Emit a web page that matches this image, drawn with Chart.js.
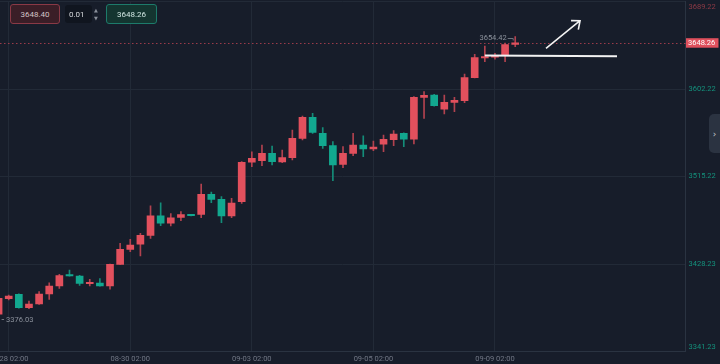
<!DOCTYPE html>
<html>
<head>
<meta charset="utf-8">
<script src="https://cdn.jsdelivr.net/npm/chart.js@4.4.1/dist/chart.umd.min.js"></script>
<style>
html,body{margin:0;padding:0;background:#171d2a;overflow:hidden;}
#wrap{position:relative;width:720px;height:364px;background:#171d2a;}
canvas{display:block;}
.box{position:absolute;box-sizing:border-box;font-family:Roboto,"Liberation Sans",Arial,sans-serif;font-size:8px;display:flex;align-items:center;justify-content:center;border-radius:3px;}
#b1{left:10px;top:4px;width:50px;height:20px;background:#3a1e27;border:1px solid #8a3946;color:#d2c2c6;}
#b2{left:65px;top:5px;width:27px;height:18px;background:#10151f;color:#d6d8dc;justify-content:flex-start;padding-left:4px;}
#spin{position:absolute;left:93px;top:6px;width:6px;height:16px;color:#8a909a;font-size:5px;line-height:8px;text-align:center;font-family:"DejaVu Sans",sans-serif;}
#b3{left:106px;top:4px;width:51px;height:20px;background:#143530;border:1px solid #1d7b6b;color:#d0e6e2;}
#tab{position:absolute;left:709px;top:114px;width:11px;height:39px;background:#2b3341;border-radius:5px 0 0 5px;color:#c5c9d0;font-family:"DejaVu Sans",sans-serif;font-size:9px;display:flex;align-items:center;justify-content:center;}
</style>
</head>
<body>
<div id="wrap">
  <canvas id="c" width="720" height="364"></canvas>
  <div class="box" id="b1">3648.40</div>
  <div class="box" id="b2">0.01</div>
  <div id="spin">&#9650;<br>&#9660;</div>
  <div class="box" id="b3">3648.26</div>
  <div id="tab">&#8250;</div>
</div>
<script>
// ---------------- data ----------------
const candleIdx = [-1,0,1,2,3,4,5,6,7,8,9,10,11,12,13,14,15,16,17,18,19,20,21,22,23,24,25,26,27,28,29,30,31,32,33,34,35,36,37,38,39,40,41,42,43,44,45,46,47,48,49,50];
const opens  = [3378.5,3393.8,3398.2,3384.9,3388.5,3398.5,3406.4,3417.1,3416.4,3408.7,3409.4,3406.4,3428.0,3442.9,3447.9,3456.8,3476.3,3468.8,3474.7,3477.0,3477.7,3497.6,3492.6,3476.0,3490.2,3529.4,3531.0,3538.3,3529.7,3534.0,3553.2,3574.1,3558.2,3545.9,3527.4,3538.3,3546.6,3542.6,3547.3,3551.9,3558.2,3552.3,3594.0,3596.3,3582.1,3589.0,3590.6,3613.5,3633.1,3633.8,3636.0,3646.5];
const highs  = [3396.5,3397.5,3398.6,3391.5,3400.8,3409.7,3418.1,3422.3,3417.1,3413.1,3413.7,3428.3,3448.9,3452.9,3458.8,3486.0,3489.2,3478.3,3480.3,3477.3,3507.8,3499.9,3495.2,3493.6,3530.0,3539.9,3546.6,3545.6,3541.6,3561.5,3575.4,3578.1,3563.8,3549.9,3544.9,3558.2,3555.8,3550.6,3556.5,3560.8,3558.6,3594.6,3599.6,3597.0,3596.3,3594.0,3617.2,3636.7,3645.0,3637.7,3648.0,3654.42];
const lows   = [3376.03,3392.5,3384.5,3383.9,3388.2,3393.2,3404.1,3416.2,3407.1,3406.4,3406.2,3403.4,3427.8,3440.5,3436.3,3453.8,3466.4,3466.1,3471.3,3476.0,3474.3,3489.2,3469.4,3474.3,3488.6,3525.0,3526.0,3526.7,3529.0,3531.7,3551.6,3558.2,3543.3,3511.1,3524.0,3536.0,3535.0,3540.9,3539.9,3545.9,3544.9,3547.6,3573.1,3585.3,3577.4,3579.7,3588.6,3613.2,3629.4,3631.8,3629.4,3644.3];
const closes = [3394.2,3396.5,3384.9,3388.5,3398.5,3406.4,3416.7,3416.4,3409.1,3409.7,3406.4,3428.0,3442.9,3447.2,3456.8,3476.3,3468.8,3474.3,3477.3,3476.3,3497.6,3492.6,3476.0,3488.9,3529.4,3533.4,3538.3,3530.0,3534.0,3553.2,3574.1,3559.2,3545.9,3526.7,3538.3,3546.6,3542.6,3544.6,3552.3,3557.5,3552.3,3594.0,3596.0,3585.7,3589.0,3591.0,3613.5,3633.4,3633.8,3634.4,3646.5,3648.26];

const xTickIdx    = [0,12,24,36,48];
const xTickLabels = ['08-28 02:00','08-30 02:00','09-03 02:00','09-05 02:00','09-09 02:00'];
const yTicks      = [3341.23,3428.23,3515.22,3602.22,3689.22];
const currentPrice = 3648.26;
const highMark = {idx: 50, value: 3654.42, text: '3654.42'};
const lowMark  = {idx: -1, value: 3376.03, text: '3376.03'};
const trendLine = [{x:47, y:3635.6},{x:60.05, y:3634.7}];
const arrowLine = [{x:53.04, y:3642.7},{x:56.4, y:3670.1}];

// ---------------- styles ----------------
const UP = '#e2505d', DOWN = '#12a88f';
const UP_WICK = '#b2424f', DOWN_WICK = '#148d79';
const FONT = 'Roboto, "Liberation Sans", Arial, sans-serif';

const isUp = candleIdx.map((_, i) => closes[i] >= opens[i]);
const bodyData = candleIdx.map((x, i) => ({x, y: [opens[i], closes[i]]}));
const wickData = candleIdx.map((x, i) => ({x, y: [lows[i], highs[i]]}));

const overlay = {
  id: 'overlay',
  beforeDatasetsDraw(chart) {
    const {ctx, chartArea: a, scales: {x, y}} = chart;
    const py = y.getPixelForValue(currentPrice);
    ctx.save();
    ctx.strokeStyle = 'rgba(200,70,85,0.75)';
    ctx.lineWidth = 1;
    ctx.setLineDash([1.5, 2.5]);
    ctx.beginPath();
    ctx.moveTo(a.left, Math.round(py) + 0.5);
    ctx.lineTo(a.right, Math.round(py) + 0.5);
    ctx.stroke();
    ctx.restore();
  },
  afterDatasetsDraw(chart) {
    const {ctx, chartArea: a, scales: {x, y}} = chart;
    ctx.save();
    // trend line
    ctx.strokeStyle = '#f2f2f2';
    ctx.lineWidth = 2;
    ctx.beginPath();
    ctx.moveTo(x.getPixelForValue(trendLine[0].x), y.getPixelForValue(trendLine[0].y));
    ctx.lineTo(x.getPixelForValue(trendLine[1].x), y.getPixelForValue(trendLine[1].y));
    ctx.stroke();
    // arrow
    const x0 = x.getPixelForValue(arrowLine[0].x), y0 = y.getPixelForValue(arrowLine[0].y);
    const x1 = x.getPixelForValue(arrowLine[1].x), y1 = y.getPixelForValue(arrowLine[1].y);
    ctx.lineWidth = 1.6;
    ctx.beginPath();
    ctx.moveTo(x0, y0); ctx.lineTo(x1, y1);
    const ang = Math.atan2(y0 - y1, x0 - x1);
    const L = 9, spread = 40 * Math.PI / 180;
    ctx.moveTo(x1 + L * Math.cos(ang + spread), y1 + L * Math.sin(ang + spread));
    ctx.lineTo(x1, y1);
    ctx.lineTo(x1 + L * Math.cos(ang - spread), y1 + L * Math.sin(ang - spread));
    ctx.stroke();

    // high / low markers
    ctx.font = '7.5px ' + FONT;
    ctx.fillStyle = '#8c929c';
    ctx.strokeStyle = '#6d737d';
    ctx.lineWidth = 1;
    ctx.textBaseline = 'middle';
    const hx = x.getPixelForValue(highMark.idx), hy = y.getPixelForValue(highMark.value) + 1;
    ctx.textAlign = 'right';
    ctx.fillText(highMark.text, hx - 8.5, hy + 1);
    ctx.beginPath();
    ctx.moveTo(hx - 7.5, Math.round(hy) + 0.5); ctx.lineTo(hx - 2, Math.round(hy) + 0.5);
    ctx.lineTo(hx - 2, Math.round(hy) + 2.5);
    ctx.stroke();
    const lx = x.getPixelForValue(lowMark.idx), ly = y.getPixelForValue(lowMark.value) + 2;
    ctx.textAlign = 'left';
    ctx.fillText(lowMark.text, lx + 7.5, ly + 1.5);
    ctx.beginPath();
    ctx.moveTo(lx + 3, Math.round(ly) + 0.5); ctx.lineTo(lx + 5.5, Math.round(ly) + 0.5);
    ctx.stroke();
    ctx.restore();
  },
  afterDraw(chart) {
    const {ctx, chartArea: a, scales: {y}} = chart;
    ctx.save();
    ctx.font = '7.5px ' + FONT;
    ctx.textBaseline = 'middle';
    ctx.textAlign = 'left';
    const top = yTicks[yTicks.length - 1], bot = yTicks[0];
    ctx.fillStyle = top > currentPrice ? '#8e3945' : '#14917c';
    ctx.fillText(top.toFixed(2), a.right + 3, y.getPixelForValue(top) + 5.5);
    ctx.fillStyle = bot > currentPrice ? '#8e3945' : '#14917c';
    ctx.fillText(bot.toFixed(2), a.right + 3, y.getPixelForValue(bot) - 4.5);
    const py = y.getPixelForValue(currentPrice);
    ctx.fillStyle = '#e0505d';
    ctx.fillRect(a.right + 0.5, py - 4.5, 32.5, 9.5);
    ctx.fillStyle = '#ffffff';
    ctx.fillText(currentPrice.toFixed(2), a.right + 2.5, py + 0.5);
    ctx.restore();
  }
};

new Chart(document.getElementById('c'), {
  type: 'bar',
  data: {
    datasets: [
      {
        label: 'wick',
        data: wickData,
        backgroundColor: candleIdx.map((_, i) => isUp[i] ? UP_WICK : DOWN_WICK),
        barThickness: 1,
        minBarLength: 1,
        borderWidth: 0,
        grouped: false,
        order: 2
      },
      {
        label: 'body',
        data: bodyData,
        backgroundColor: candleIdx.map((_, i) => isUp[i] ? UP : DOWN),
        barThickness: 7,
        minBarLength: 1.5,
        borderWidth: 0,
        grouped: false,
        order: 1
      }
    ]
  },
  options: {
    responsive: false,
    devicePixelRatio: 1,
    animation: false,
    events: [],
    layout: {padding: {top: 1.5, left: 0, right: 0, bottom: 0}},
    plugins: {legend: {display: false}, tooltip: {enabled: false}},
    scales: {
      x: {
        type: 'linear',
        position: 'bottom',
        offset: false,
        bounds: 'ticks',
        min: -0.86,
        max: 66.81,
        afterBuildTicks: s => { s.ticks = xTickIdx.map(v => ({value: v})); },
        afterFit: s => { s.height = 12.4; s.paddingLeft = 0; s.paddingRight = 0; },
        grid: {color: '#222a37', lineWidth: 1, drawTicks: false, offset: false},
        border: {color: '#2a3341', width: 1},
        ticks: {
          autoSkip: false, maxRotation: 0, padding: 3,
          color: '#717785',
          font: {family: FONT, size: 7.5},
          callback: v => { const k = xTickIdx.indexOf(v); return k >= 0 ? xTickLabels[k] : ''; }
        }
      },
      y: {
        type: 'linear',
        position: 'right',
        min: yTicks[0],
        max: yTicks[yTicks.length - 1],
        afterBuildTicks: s => { s.ticks = yTicks.map(v => ({value: v})); },
        afterFit: s => { s.width = 34.5; s.paddingTop = 0; s.paddingBottom = 0; },
        grid: {color: '#222a37', lineWidth: 1, drawTicks: false},
        border: {color: '#2a3341', width: 1},
        ticks: {
          padding: 3,
          font: {family: FONT, size: 7.5},
          color: c => (c.tick && c.tick.value > currentPrice) ? '#8e3945' : '#14917c',
          callback: v => (v === yTicks[0] || v === yTicks[yTicks.length - 1]) ? '' : v.toFixed(2)
        }
      }
    }
  },
  plugins: [overlay]
});
</script>
</body>
</html>
